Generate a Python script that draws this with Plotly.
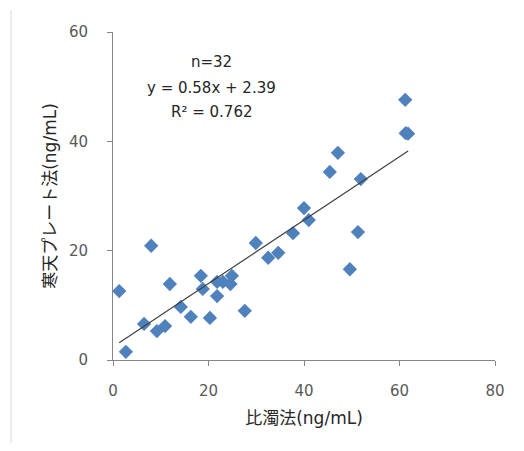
import plotly.graph_objects as go

x_vals = [1.3, 2.7, 6.5, 8.0, 9.2, 10.9, 11.9, 14.2, 16.3, 18.4, 18.8, 20.3, 21.8, 21.8,
          23.0, 24.6, 24.9, 27.6, 29.9, 32.5, 34.6, 37.7, 40.0, 41.0, 45.4, 47.1, 49.6,
          51.3, 51.9, 61.2, 61.3, 61.8]
y_vals = [12.6, 1.5, 6.6, 20.9, 5.3, 6.2, 13.9, 9.7, 7.9, 15.4, 13.0, 7.7, 11.7, 14.3,
          14.3, 13.9, 15.4, 9.0, 21.4, 18.7, 19.6, 23.2, 27.8, 25.6, 34.4, 37.9, 16.6,
          23.4, 33.1, 47.6, 41.5, 41.4]
slope = 0.58
intercept = 2.39
stat_lines = ["n=32", "y = 0.58x + 2.39", "R² = 0.762"]
x_ticks = [0, 20, 40, 60, 80]
y_ticks = [0, 20, 40, 60]
x_title = "比濁法(ng/mL)"
y_title = "寒天プレート法(ng/mL)"

FONT = "DejaVu Sans, Noto Sans CJK JP, sans-serif"

fig = go.Figure()
fig.add_trace(go.Scatter(
    x=x_vals, y=y_vals, mode="markers",
    marker=dict(symbol="diamond", size=11, color="#4F81BD", line=dict(width=0)),
    showlegend=False, hoverinfo="skip"))

xmin, xmax = min(x_vals), max(x_vals)
fig.add_trace(go.Scatter(
    x=[xmin, xmax], y=[slope * xmin + intercept, slope * xmax + intercept],
    mode="lines", line=dict(color="#404040", width=1.2),
    showlegend=False, hoverinfo="skip"))

for txt, yv in zip(stat_lines, [54.5, 49.75, 45.4]):
    fig.add_annotation(x=20.7, y=yv, xref="x", yref="y", text=txt, showarrow=False,
                       font=dict(family=FONT, size=15, color="#262626"))

axis_common = dict(showgrid=False, zeroline=False, showline=True, linecolor="#868686",
                   linewidth=1, ticks="outside", tickcolor="#868686", ticklen=5,
                   tickfont=dict(family=FONT, size=15, color="#595959"))

fig.update_xaxes(range=[0, 80], tickvals=x_ticks, ticklabelstandoff=12,
                 title=dict(text=x_title, font=dict(family=FONT, size=17, color="#262626"),
                            standoff=13),
                 **axis_common)
fig.update_yaxes(range=[0, 60], tickvals=y_ticks, ticklabelstandoff=16,
                 title=dict(text=y_title, font=dict(family=FONT, size=17, color="#262626"),
                            standoff=7),
                 **axis_common)

# page body has an 8px margin, so the figure is offset by (8, 8)
fig.add_shape(type="line", xref="paper", yref="paper",
              x0=(11 - 113) / 382, x1=(11 - 113) / 382,
              y0=(360 - 451) / 328, y1=(360 - 10) / 328,
              line=dict(color="#D9D9D9", width=1))

fig.update_layout(width=516, height=435, margin=dict(l=105, r=29, t=24, b=83),
                  plot_bgcolor="white", paper_bgcolor="white")

fig.write_html("out.html")
